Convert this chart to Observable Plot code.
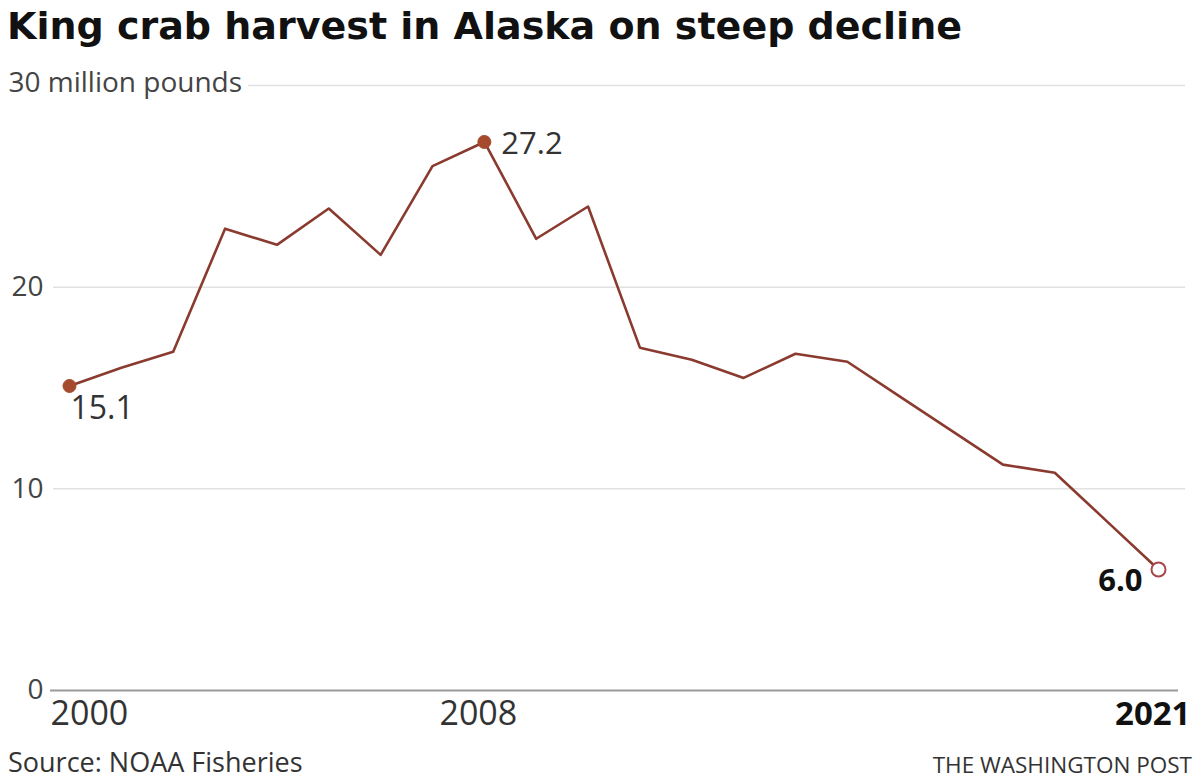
<!DOCTYPE html>
<html>
<head>
<meta charset="utf-8">
<script src="https://cdn.jsdelivr.net/npm/d3@7"></script>
<script src="https://cdn.jsdelivr.net/npm/@observablehq/plot@0.6"></script>
<style>
  html, body { margin: 0; padding: 0; background: #fff; }
  #wrap { position: relative; width: 1199px; height: 784px; overflow: hidden; font-family: "Open Sans", sans-serif; }
  #title { position: absolute; left: 7px; top: 1px; font-family: "DejaVu Sans", sans-serif; font-size: 38px; line-height: 50px; font-weight: 700; color: #111; white-space: nowrap; }
  #chart { position: absolute; left: 0; top: 60px; }
  #source { position: absolute; left: 8px; top: 747px; font-size: 27px; line-height: 30px; color: #333; }
  #credit { position: absolute; right: 7px; top: 750px; font-size: 22.5px; line-height: 30px; color: #333; }
</style>
</head>
<body>
<div id="wrap">
  <div id="title">King crab harvest in Alaska on steep decline</div>
  <div id="chart"></div>
  <div id="source">Source: NOAA Fisheries</div>
  <div id="credit">THE WASHINGTON POST</div>
</div>
<script>
const years = [2000, 2001, 2002, 2003, 2004, 2005, 2006, 2007, 2008, 2009, 2010,
               2011, 2012, 2013, 2014, 2015, 2016, 2017, 2018, 2019, 2020, 2021];
const harvest = [15.1, 16.0, 16.8, 22.9, 22.1, 23.9, 21.6, 26.0, 27.2, 22.4, 24.0,
                 17.0, 16.4, 15.5, 16.7, 16.3, 14.6, 12.9, 11.2, 10.8, 8.4, 6.0];
const yTicks = [0, 10, 20, 30];
const yUnit = "million pounds";
const xTicks = [2000, 2008, 2021];
const labelYears = [2000, 2008];
const lastYear = 2021;

const data = years.map((year, i) => ({year, value: harvest[i]}));
const byYear = y => data.find(d => d.year === y);

const lineColor = "#8a3a2e";
const dotColor = "#a54a2c";

const chart = Plot.plot({
  width: 1199,
  height: 680,
  marginTop: 25,
  marginBottom: 50,
  marginLeft: 69,
  marginRight: 41,
  x: {domain: [2000, 2021], axis: null},
  y: {domain: [0, 30], axis: null},
  style: {fontFamily: "Open Sans, sans-serif", background: "transparent", overflow: "visible"},
  marks: [
    Plot.ruleY(yTicks.filter(d => d > 0 && d < 30), {stroke: "#e2e2e2", strokeWidth: 1.5, insetLeft: -16, insetRight: -27}),
    Plot.ruleY(yTicks.filter(d => d === 30), {stroke: "#e2e2e2", strokeWidth: 1.5, insetLeft: 179, insetRight: -27}),
    Plot.ruleY([0], {stroke: "#9a9a9a", strokeWidth: 2, insetLeft: -19, insetRight: -20}),
    Plot.text(yTicks.filter(d => d < 30), {y: d => d, text: d => String(d), frameAnchor: "left", lineAnchor: "middle", dx: -26, textAnchor: "end", fontSize: 28, fill: "#444"}),
    Plot.text(yTicks.filter(d => d === 30), {y: d => d, text: d => `${d} ${yUnit}`, frameAnchor: "left", lineAnchor: "middle", dx: -61, dy: -2, textAnchor: "start", fontSize: 28, fill: "#444"}),
    Plot.text(xTicks.filter(d => d === xTicks[0]), {x: d => d, text: d => String(d), frameAnchor: "bottom", lineAnchor: "middle", dy: 24, dx: -19, textAnchor: "start", fontSize: 34, fill: "#333"}),
    Plot.text(xTicks.filter(d => d !== xTicks[0] && d !== lastYear), {x: d => d, text: d => String(d), frameAnchor: "bottom", lineAnchor: "middle", dy: 24, dx: -6, textAnchor: "middle", fontSize: 34, fill: "#333"}),
    Plot.text(xTicks.filter(d => d === lastYear), {x: d => d, text: d => String(d), frameAnchor: "bottom", lineAnchor: "middle", dy: 24, dx: 32, textAnchor: "end", fontSize: 33, fontWeight: 700, fill: "#111"}),
    Plot.line(data, {x: "year", y: "value", stroke: lineColor, strokeWidth: 2.6}),
    Plot.dot(labelYears.map(byYear), {x: "year", y: "value", r: 6.5, fill: dotColor, stroke: dotColor, strokeWidth: 1}),
    Plot.dot([byYear(lastYear)], {x: "year", y: "value", r: 7, fill: "white", stroke: "#a8464a", strokeWidth: 2}),
    Plot.text([byYear(2000)], {x: "year", y: "value", text: d => d.value.toFixed(1), dx: 1, dy: 23, textAnchor: "start", fontSize: 32, fill: "#333"}),
    Plot.text([byYear(2008)], {x: "year", y: "value", text: d => d.value.toFixed(1), dx: 17, dy: 2, textAnchor: "start", fontSize: 31, fill: "#333"}),
    Plot.text([byYear(lastYear)], {x: "year", y: "value", text: d => d.value.toFixed(1), dx: -16, dy: 12, textAnchor: "end", fontSize: 31, fontWeight: 700, fill: "#111"})
  ]
});
document.getElementById("chart").appendChild(chart);
</script>
</body>
</html>
